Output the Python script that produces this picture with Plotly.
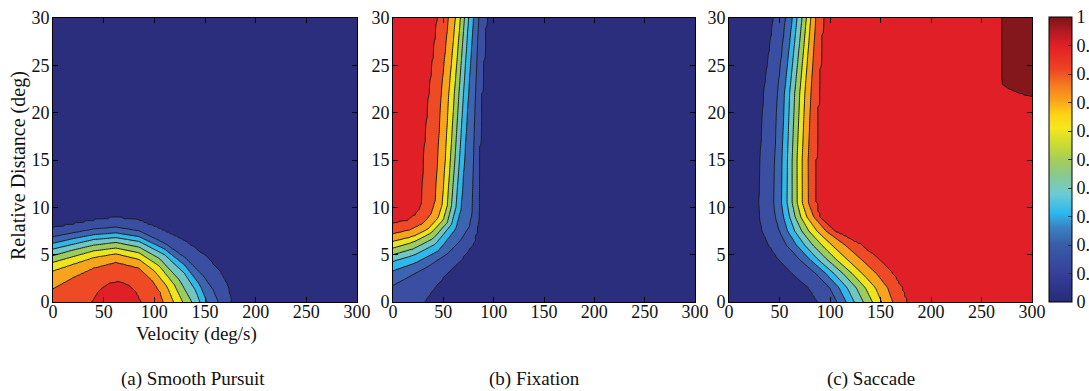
import numpy as np
import plotly.graph_objects as go

# ---------------------------------------------------------------------------
# Axis ticks, labels and captions
# ---------------------------------------------------------------------------
velocity_ticks = [0, 50, 100, 150, 200, 250, 300]
distance_ticks = [0, 5, 10, 15, 20, 25, 30]
colorbar_ticks = [0, 0.1, 0.2, 0.3, 0.4, 0.5, 0.6, 0.7, 0.8, 0.9, 1.0]
colorbar_labels = ["0", "0.", "0.", "0.", "0.", "0.", "0.", "0.", "0.", "0.", "1"]
captions = ["(a) Smooth Pursuit", "(b) Fixation", "(c) Saccade"]

# contour levels 0.1 ... 1.0
level_start, level_end, level_step = 0.1, 1.0, 0.1

# band colours: below 0.1, 0.1-0.2, ..., 0.9-1.0, above 1.0
band_colors = ["#2b2d7d", "#3a4fa1", "#3d64b0", "#30b6e8", "#70c6c3", "#9ccb5e",
               "#ede51c", "#f8a31c", "#ee4a25", "#e01f26", "#84171b"]

# continuous ramp shown in the colour bar
ramp_stops = [0.0, 0.1, 0.2, 0.26, 0.31, 0.38, 0.45, 0.5, 0.55, 0.61, 0.66,
              0.71, 0.76, 0.82, 0.9, 0.95, 1.0]
ramp_colors = ["#272a78", "#35409a", "#3a5ca8", "#3b80c2", "#2ab7ec", "#6ccbd5",
               "#8cc98a", "#a6cd5a", "#c8db34", "#f4e81c", "#fdd116", "#f9a11b",
               "#f47b20", "#ee4123", "#e11f26", "#b01b21", "#7a1416"]

# ---------------------------------------------------------------------------
# (a) Smooth pursuit: each contour level as distance d over velocity v
# ---------------------------------------------------------------------------
pursuit_01_v = [0, 20, 40, 62, 85, 112, 132, 151, 165, 172, 176]
pursuit_01_d = [7.8, 8.2, 8.6, 8.9, 8.6, 7.4, 6.3, 4.8, 3.2, 1.8, 0]
pursuit_02_v = [0, 20, 40, 62, 85, 110, 130, 148, 158, 163]
pursuit_02_d = [6.9, 7.3, 7.7, 7.9, 7.5, 6.2, 4.7, 2.8, 1.3, 0]
pursuit_03_v = [0, 20, 40, 62, 85, 110, 130, 145, 152]
pursuit_03_d = [6.2, 6.7, 7.1, 7.3, 6.9, 5.6, 3.9, 1.8, 0]
pursuit_04_v = [0, 20, 40, 62, 85, 110, 130, 141, 145]
pursuit_04_d = [5.6, 6.1, 6.6, 6.8, 6.4, 5.0, 3.0, 1.2, 0]
pursuit_05_v = [0, 20, 40, 62, 85, 105, 125, 137]
pursuit_05_d = [4.9, 5.5, 6.0, 6.3, 5.8, 4.6, 2.3, 0]
pursuit_06_v = [0, 20, 40, 62, 85, 105, 120, 128]
pursuit_06_d = [4.2, 4.8, 5.4, 5.7, 5.2, 3.8, 1.8, 0]
pursuit_07_v = [0, 20, 40, 62, 85, 100, 113, 119]
pursuit_07_d = [3.3, 4.0, 4.7, 5.1, 4.5, 3.3, 1.6, 0]
pursuit_08_v = [0, 20, 40, 62, 85, 98, 106, 109]
pursuit_08_d = [1.4, 2.6, 3.6, 4.2, 3.6, 2.3, 1.0, 0]
pursuit_09_v = [38, 45, 55, 65, 75, 82, 87]
pursuit_09_d = [0, 1.2, 2.0, 2.2, 1.8, 1.1, 0]
# value along the d = 0 edge
pursuit_floor_v = [0, 38, 65, 87, 109, 119, 128, 137, 145, 152, 163, 176, 200, 300]
pursuit_floor_z = [0.86, 0.9, 0.95, 0.9, 0.8, 0.7, 0.6, 0.5, 0.4, 0.3, 0.2, 0.1, 0.03, 0.0]

# ---------------------------------------------------------------------------
# (b) Fixation: each contour level as velocity v over distance d
# ---------------------------------------------------------------------------
fixation_09_v = [0, 14, 22, 27, 29, 30.5, 35.4, 44.3]
fixation_09_d = [8.3, 8.6, 9.2, 9.9, 10.7, 15, 21.3, 30]
fixation_08_v = [0, 17, 30, 38, 42, 44.5, 48, 55.2]
fixation_08_d = [7.2, 7.6, 8.3, 9.3, 10.7, 15, 22, 30]
fixation_07_v = [0, 20, 35, 45, 49, 52, 55.5, 62]
fixation_07_d = [6.4, 6.9, 7.7, 8.9, 10.3, 15, 22, 30]
fixation_06_v = [0, 20, 38, 50, 54, 57, 61, 67]
fixation_06_d = [5.7, 6.3, 7.3, 8.7, 10.2, 15, 22, 30]
fixation_05_v = [0, 20, 40, 54, 58, 61.5, 65.5, 71]
fixation_05_d = [5.0, 5.6, 6.7, 8.4, 10.1, 15, 22, 30]
fixation_04_v = [0, 20, 42, 58, 62.5, 66, 70, 75]
fixation_04_d = [4.3, 4.9, 6.1, 8.2, 10.0, 15, 22, 30]
fixation_03_v = [0, 22, 45, 62, 67.5, 71, 75, 80]
fixation_03_d = [3.3, 4.1, 5.4, 7.7, 9.9, 15, 22, 30]
fixation_02_v = [0, 34, 54, 67, 76, 79, 80, 82, 85]
fixation_02_d = [1.76, 3.7, 5.1, 6.5, 8.0, 9.5, 15, 22, 30]
fixation_01_v = [31, 39, 50, 67, 80, 84, 85.5, 88, 92.6]
fixation_01_d = [0, 1.2, 2.6, 4.4, 6.2, 8.0, 15, 22, 30]
# value along the v = 0 edge
fixation_edge_d = [0, 1.76, 3.3, 4.3, 5.0, 5.7, 6.4, 7.2, 8.3, 10, 30]
fixation_edge_z = [0.15, 0.2, 0.3, 0.4, 0.5, 0.6, 0.7, 0.8, 0.9, 0.95, 0.96]

# ---------------------------------------------------------------------------
# (c) Saccade: each contour level as velocity v over distance d
# ---------------------------------------------------------------------------
saccade_d = [0, 1.5, 3, 4.5, 6, 7.5, 9, 10.5, 15, 22, 30]
saccade_01_v = [88, 79, 63, 49, 39.5, 33, 30.3, 29.7, 31, 34.5, 44.2]
saccade_02_v = [107, 100, 86, 70, 57, 50, 46, 44.5, 45.4, 48, 56]
saccade_03_v = [116, 109, 96, 80, 67, 58, 54, 52, 52.6, 55, 62.7]
saccade_04_v = [124, 117, 104, 88, 75, 65, 60, 57.5, 57.9, 60, 67.3]
saccade_05_v = [133, 126, 113, 97, 83, 72, 65.5, 62.5, 62.5, 65, 72.3]
saccade_06_v = [142, 135, 122, 106, 92, 79, 71, 67.5, 67.4, 70, 76.6]
saccade_07_v = [151, 145, 132, 117, 102, 87, 77, 72.5, 72.4, 75, 80.9]
saccade_08_v = [162, 157, 146, 131, 115, 96, 84, 78.5, 78.3, 81, 85.8]
saccade_09_v = [176, 171, 162, 148, 131, 104, 89, 86, 86, 88.5, 93]
saccade_10_v = [300, 285, 276, 271, 270, 270]
saccade_10_d = [21.7, 22.2, 22.6, 23, 24, 30]
# values along the v = 0 and v = 300 edges
saccade_left_z = 0.02
saccade_right_d = [0, 21.65, 21.75, 30]
saccade_right_z = [0.96, 0.96, 1.03, 1.03]

# ---------------------------------------------------------------------------
# grids
# ---------------------------------------------------------------------------
V = np.arange(0, 300.01, 2.0)
D = np.arange(0, 30.001, 0.2)


def field_from_columns(curves, floor_v, floor_z):
    """z falls with d in every column; curves give the height of each level."""
    z = np.zeros((len(D), len(V)))
    for j, x in enumerate(V):
        hd, hz = [0.0], [float(np.interp(x, floor_v, floor_z))]
        for level, cv, cd in sorted(curves, key=lambda c: -c[0]):
            if cv[0] <= x <= cv[-1]:
                hd.append(float(np.interp(x, cv, cd)))
                hz.append(level)
        hd.append(30.0)
        hz.append(0.0)
        z[:, j] = np.interp(D, hd, hz)
    return z


def field_from_rows(curves, left, right, rising):
    """z is monotone in v along every row; curves give the v of each level."""
    z = np.zeros((len(D), len(V)))
    for i, y in enumerate(D):
        pv, pz = [0.0], [float(left(y))]
        for level, cv, cd in sorted(curves, key=lambda c: c[0], reverse=not rising):
            if cd[0] <= y <= cd[-1]:
                pv.append(float(np.interp(y, cd, cv)))
                pz.append(level)
        pv.append(300.0)
        pz.append(float(right(y)))
        z[i, :] = np.interp(V, pv, pz)
    return z


pursuit_z = field_from_columns(
    [(0.1, pursuit_01_v, pursuit_01_d), (0.2, pursuit_02_v, pursuit_02_d),
     (0.3, pursuit_03_v, pursuit_03_d), (0.4, pursuit_04_v, pursuit_04_d),
     (0.5, pursuit_05_v, pursuit_05_d), (0.6, pursuit_06_v, pursuit_06_d),
     (0.7, pursuit_07_v, pursuit_07_d), (0.8, pursuit_08_v, pursuit_08_d),
     (0.9, pursuit_09_v, pursuit_09_d)],
    pursuit_floor_v, pursuit_floor_z)

fixation_z = field_from_rows(
    [(0.1, fixation_01_v, fixation_01_d), (0.2, fixation_02_v, fixation_02_d),
     (0.3, fixation_03_v, fixation_03_d), (0.4, fixation_04_v, fixation_04_d),
     (0.5, fixation_05_v, fixation_05_d), (0.6, fixation_06_v, fixation_06_d),
     (0.7, fixation_07_v, fixation_07_d), (0.8, fixation_08_v, fixation_08_d),
     (0.9, fixation_09_v, fixation_09_d)],
    lambda y: np.interp(y, fixation_edge_d, fixation_edge_z),
    lambda y: 0.0, rising=False)

saccade_z = field_from_rows(
    [(0.1, saccade_01_v, saccade_d), (0.2, saccade_02_v, saccade_d),
     (0.3, saccade_03_v, saccade_d), (0.4, saccade_04_v, saccade_d),
     (0.5, saccade_05_v, saccade_d), (0.6, saccade_06_v, saccade_d),
     (0.7, saccade_07_v, saccade_d), (0.8, saccade_08_v, saccade_d),
     (0.9, saccade_09_v, saccade_d), (1.0, saccade_10_v, saccade_10_d)],
    lambda y: saccade_left_z,
    lambda y: np.interp(y, saccade_right_d, saccade_right_z), rising=True)

# ---------------------------------------------------------------------------
# figure
# ---------------------------------------------------------------------------
W, H = 1089, 391
SERIF = "Liberation Serif"
band_scale = [[k / 10, c] for k, c in enumerate(band_colors)]
ramp_scale = [[s, c] for s, c in zip(ramp_stops, ramp_colors)]

fig = go.Figure()
for idx, z in enumerate([pursuit_z, fixation_z, saccade_z]):
    suffix = "" if idx == 0 else str(idx + 1)
    fig.add_trace(go.Contour(
        x=V, y=D, z=np.round(z, 4),
        autocontour=False,
        contours=dict(start=level_start, end=level_end, size=level_step, coloring="fill"),
        colorscale=band_scale, showscale=False,
        line=dict(color="#1c1c1c", width=1, smoothing=1.0),
        hoverinfo="skip",
        xaxis="x" + suffix, yaxis="y" + suffix,
    ))

# colour bar carried by an off-range marker trace
fig.add_trace(go.Scatter(
    x=[-50, -50], y=[-50, -50], mode="markers", showlegend=False, hoverinfo="skip",
    xaxis="x3", yaxis="y3",
    marker=dict(size=1, opacity=0, color=[0, 1], cmin=0, cmax=1,
                colorscale=ramp_scale, showscale=True,
                colorbar=dict(
                    thickness=23, thicknessmode="pixels",
                    len=285, lenmode="pixels",
                    x=1049 / W, xanchor="left", xpad=0,
                    y=1 - 159.5 / H, yanchor="middle", ypad=0,
                    outlinewidth=1, outlinecolor="#000",
                    tickmode="array", tickvals=colorbar_ticks, ticktext=colorbar_labels,
                    ticks="inside", ticklen=4, tickcolor="#333",
                    tickfont=dict(family=SERIF, size=18, color="#111"),
                )),
))

x_domains = [(53 / W, 357 / W), (393 / W, 695 / W), (729 / W, 1032 / W)]
y_domain = (1 - 302 / H, 1 - 18 / H)


def axis(domain, rng, ticks, anchor, standoff):
    return dict(domain=domain, range=rng, tickmode="array", tickvals=ticks,
                ticks="inside", ticklen=5, tickwidth=1, tickcolor="#000",
                showline=True, linecolor="#000", linewidth=1, mirror="ticks",
                showgrid=False, zeroline=False, anchor=anchor,
                ticklabelstandoff=standoff,
                tickfont=dict(family=SERIF, size=18, color="#111"))


layout = dict(
    width=W, height=H,
    margin=dict(l=0, r=0, t=0, b=0, pad=0, autoexpand=False),
    paper_bgcolor="white", plot_bgcolor="white", showlegend=False,
)
for idx in range(3):
    suffix = "" if idx == 0 else str(idx + 1)
    layout["xaxis" + suffix] = axis(x_domains[idx], [0, 300], velocity_ticks, "y" + suffix, -7)
    layout["yaxis" + suffix] = axis(y_domain, [0, 30], distance_ticks, "x" + suffix, -1)


def label(text, px, py, size, angle=0):
    return dict(text=text, x=px / W, y=1 - py / H, xref="paper", yref="paper",
                xanchor="center", yanchor="middle", showarrow=False, textangle=angle,
                font=dict(family=SERIF, size=size, color="#111"))


annotations = [
    label("Velocity (deg/s)", 196, 334, 19),
    label("Relative Distance (deg)", 18, 166, 20, angle=-90),
]
for cx, cap in zip([193, 534, 871], captions):
    annotations.append(label(cap, cx, 379, 19))
layout["annotations"] = annotations

fig.update_layout(**layout)
fig.write_html("out.html", config={"displayModeBar": False})
